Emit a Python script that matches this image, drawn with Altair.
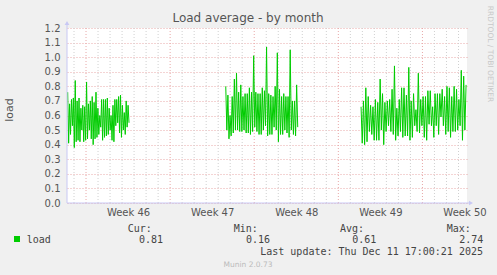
import altair as alt
import pandas as pd
import numpy as np

# ---- data (days relative to Monday of week 46) ----
x_domain = [-1.583, 31.708]
seg_start = [-1.525, 11.63, 22.89]
seg_end = [3.578, 17.62, 31.63]

seg1_peaks = [0.76, 0.68, 0.71, 0.72, 0.84, 0.70, 0.72, 0.65, 0.67, 0.66,
              0.83, 0.68, 0.70, 0.73, 0.69, 0.76, 0.65, 0.60, 0.71, 0.71,
              0.71, 0.72, 0.65, 0.60, 0.67, 0.71, 0.71, 0.73, 0.74, 0.67,
              0.62, 0.70, 0.67]
seg1_lows = [0.41, 0.47, 0.53, 0.38, 0.42, 0.43, 0.42, 0.50, 0.42, 0.43,
             0.44, 0.50, 0.44, 0.40, 0.44, 0.45, 0.47, 0.52, 0.43, 0.45,
             0.46, 0.47, 0.50, 0.43, 0.42, 0.53, 0.55, 0.48, 0.45, 0.50,
             0.47, 0.52, 0.55]
seg2_peaks = [0.80, 0.74, 0.60, 0.73, 0.85, 0.89, 0.76, 0.81, 0.73, 0.75,
              0.75, 0.79, 0.76, 1.01, 0.76, 0.75, 0.75, 0.79, 0.77, 1.07,
              0.75, 0.74, 0.73, 0.80, 1.03, 0.78, 0.73, 0.75, 0.73, 0.73,
              1.05, 0.70, 0.70, 0.81]
seg2_lows = [0.50, 0.44, 0.46, 0.48, 0.50, 0.50, 0.49, 0.49, 0.50, 0.48,
             0.48, 0.47, 0.49, 0.52, 0.49, 0.47, 0.47, 0.50, 0.53, 0.46,
             0.47, 0.47, 0.52, 0.50, 0.42, 0.47, 0.47, 0.50, 0.48, 0.45,
             0.50, 0.47, 0.46, 0.52]
seg3_peaks = [0.66, 0.70, 0.79, 0.73, 0.67, 0.66, 0.71, 0.69, 0.85, 0.75,
              0.69, 0.70, 0.71, 0.78, 0.94, 0.65, 0.71, 0.79, 0.79, 0.74,
              0.93, 0.70, 0.75, 0.64, 0.89, 0.71, 0.73, 0.73, 0.77, 0.77,
              0.66, 0.75, 0.75, 0.75, 0.78, 0.73, 0.80, 0.79, 0.73, 0.80,
              0.78, 0.71, 0.91, 0.87, 0.81]
seg3_lows = [0.41, 0.40, 0.42, 0.49, 0.47, 0.43, 0.43, 0.43, 0.50, 0.40,
             0.49, 0.53, 0.49, 0.47, 0.43, 0.46, 0.49, 0.45, 0.46, 0.46,
             0.43, 0.45, 0.53, 0.49, 0.48, 0.53, 0.45, 0.43, 0.54, 0.53,
             0.45, 0.53, 0.47, 0.59, 0.53, 0.47, 0.49, 0.45, 0.49, 0.49,
             0.50, 0.53, 0.43, 0.50]

y_ticks = [0.0, 0.1, 0.2, 0.3, 0.4, 0.5, 0.6, 0.7, 0.8, 0.9, 1.0, 1.1, 1.2]
week_lines = [0, 7, 14, 21, 28]
week_label_pos = [3.5, 10.5, 17.5, 24.5, 31.5]
day_lines = [d for d in range(-1, 32) if d % 7 != 0]

stat_names = ["Cur:", "Min:", "Avg:", "Max:"]
stat_values = ["0.81", "0.16", "0.61", "2.74"]
series_name = "load"
last_update = "Last update: Thu Dec 11 17:00:21 2025"


def interleave(p, l):
    out = []
    for i in range(len(p)):
        out.append(p[i])
        if i < len(l):
            out.append(l[i])
    return out


rows = []
for k, (pk, lw) in enumerate([(seg1_peaks, seg1_lows), (seg2_peaks, seg2_lows), (seg3_peaks, seg3_lows)]):
    vals = interleave(pk, lw)
    ts = np.linspace(seg_start[k], seg_end[k], len(vals))
    for t, v in zip(ts, vals):
        rows.append({"t": float(t), "v": v, "seg": k})
df = pd.DataFrame(rows)

W, H = 400, 175
xs = alt.Scale(domain=x_domain, nice=False, zero=False)
ys = alt.Scale(domain=[0, 1.2], nice=False)

GRID_RED = "#E8A8A8"
GRID_GRAY = "#D0D0D0"
TXT = "#555555"
AXC = "#C8C8F4"

X_AXIS = alt.Axis(
    values=week_label_pos, labelExpr="'Week ' + (46 + floor(datum.value / 7))",
    title=None, grid=False, domain=False, ticks=False, tickSize=0,
    labelPadding=4, labelFont="DejaVu Sans", labelFontSize=10, labelColor=TXT,
    labelAlign="center")

one = pd.DataFrame({"k": [0]})

day_grid = alt.Chart(pd.DataFrame({"t": day_lines})).mark_rule(
    color=GRID_GRAY, strokeDash=[1, 2], strokeWidth=1
).encode(x=alt.X("t:Q", scale=xs, axis=X_AXIS), y=alt.value(0), y2=alt.value(H))

week_grid = alt.Chart(pd.DataFrame({"t": week_lines})).mark_rule(
    color=GRID_RED, strokeDash=[1, 2], strokeWidth=1
).encode(x=alt.X("t:Q", scale=xs, axis=X_AXIS), y=alt.value(0), y2=alt.value(H + 2))

line = alt.Chart(df).mark_line(color="#00CC00", strokeWidth=1, interpolate="linear").encode(
    x=alt.X("t:Q", scale=xs, axis=X_AXIS),
    y=alt.Y("v:Q", scale=ys, axis=alt.Axis(
        values=y_ticks, format=".1f", title=None, grid=True, gridColor=GRID_RED,
        gridDash=[1, 2], gridOpacity=1, domain=False, ticks=False, tickSize=0,
        labelPadding=7, labelFont="DejaVu Sans", labelFontSize=10, labelColor=TXT)),
    detail="seg:N",
)

# axis lines with arrows
y_axis_line = alt.Chart(one).mark_rule(color=AXC, strokeWidth=1).encode(
    x=alt.value(0), y=alt.value(H), y2=alt.value(-4))
y_arrow = alt.Chart(one).mark_point(shape="triangle-up", filled=True, color=AXC, size=22, opacity=1).encode(
    x=alt.value(0), y=alt.value(-5))
x_axis_line = alt.Chart(one).mark_rule(color=AXC, strokeWidth=1).encode(
    x=alt.value(0), x2=alt.value(W + 3), y=alt.value(H))
x_arrow = alt.Chart(one).mark_point(shape="triangle-right", filled=True, color=AXC, size=22, opacity=1).encode(
    x=alt.value(W + 4), y=alt.value(H))


def txt(s, x, y, size=10, font="DejaVu Sans", color=TXT, align="left", angle=0, baseline="alphabetic"):
    return alt.Chart(one).mark_text(
        text=s, font=font, fontSize=size, color=color, align=align, angle=angle, baseline=baseline
    ).encode(x=alt.value(x - 67), y=alt.value(y - 28))


MONO = "DejaVu Sans Mono"
texts = [
    txt("Load average - by month", 248, 22, size=12, align="center"),
    txt("load", 10, 110, size=11, align="center", angle=270, baseline="middle"),
    txt("RRDTOOL / TOBI OETIKER", 490, 54, size=7.5, color="#C8C8C8", align="center", angle=90, baseline="middle"),
    txt("Munin 2.0.73", 248, 267, size=7.5, color="#BBBBBB", align="center"),
]
stat_x = [127.7, 233.7, 340.0, 446.7]
val_x = [139.0, 246.0, 352.3, 459.3]
for n, xx in zip(stat_names, stat_x):
    texts.append(txt(n, xx, 232, font=MONO, color="#444444"))
for v, xx in zip(stat_values, val_x):
    texts.append(txt(v, xx, 243, font=MONO, color="#444444"))
texts.append(txt(series_name, 26.7, 243, font=MONO, color="#444444"))
texts.append(txt(last_update, 483, 254.5, font=MONO, color="#444444", align="right"))

legend_sq = alt.Chart(one).mark_square(color="#00CC00", size=36, filled=True, opacity=1).encode(
    x=alt.value(17 - 67), y=alt.value(239 - 28))

chart = alt.layer(
    day_grid, week_grid, line, y_axis_line, y_arrow, x_axis_line, x_arrow, legend_sq, *texts
).properties(
    width=W, height=H,
    autosize=alt.AutoSizeParams(type="none"),
    padding={"left": 67, "top": 28, "right": 30, "bottom": 72},
    background="#F0F0F0",
).configure_view(fill="white", strokeWidth=0)

chart.save("out.html", embed_options={"renderer": "svg", "actions": False})
